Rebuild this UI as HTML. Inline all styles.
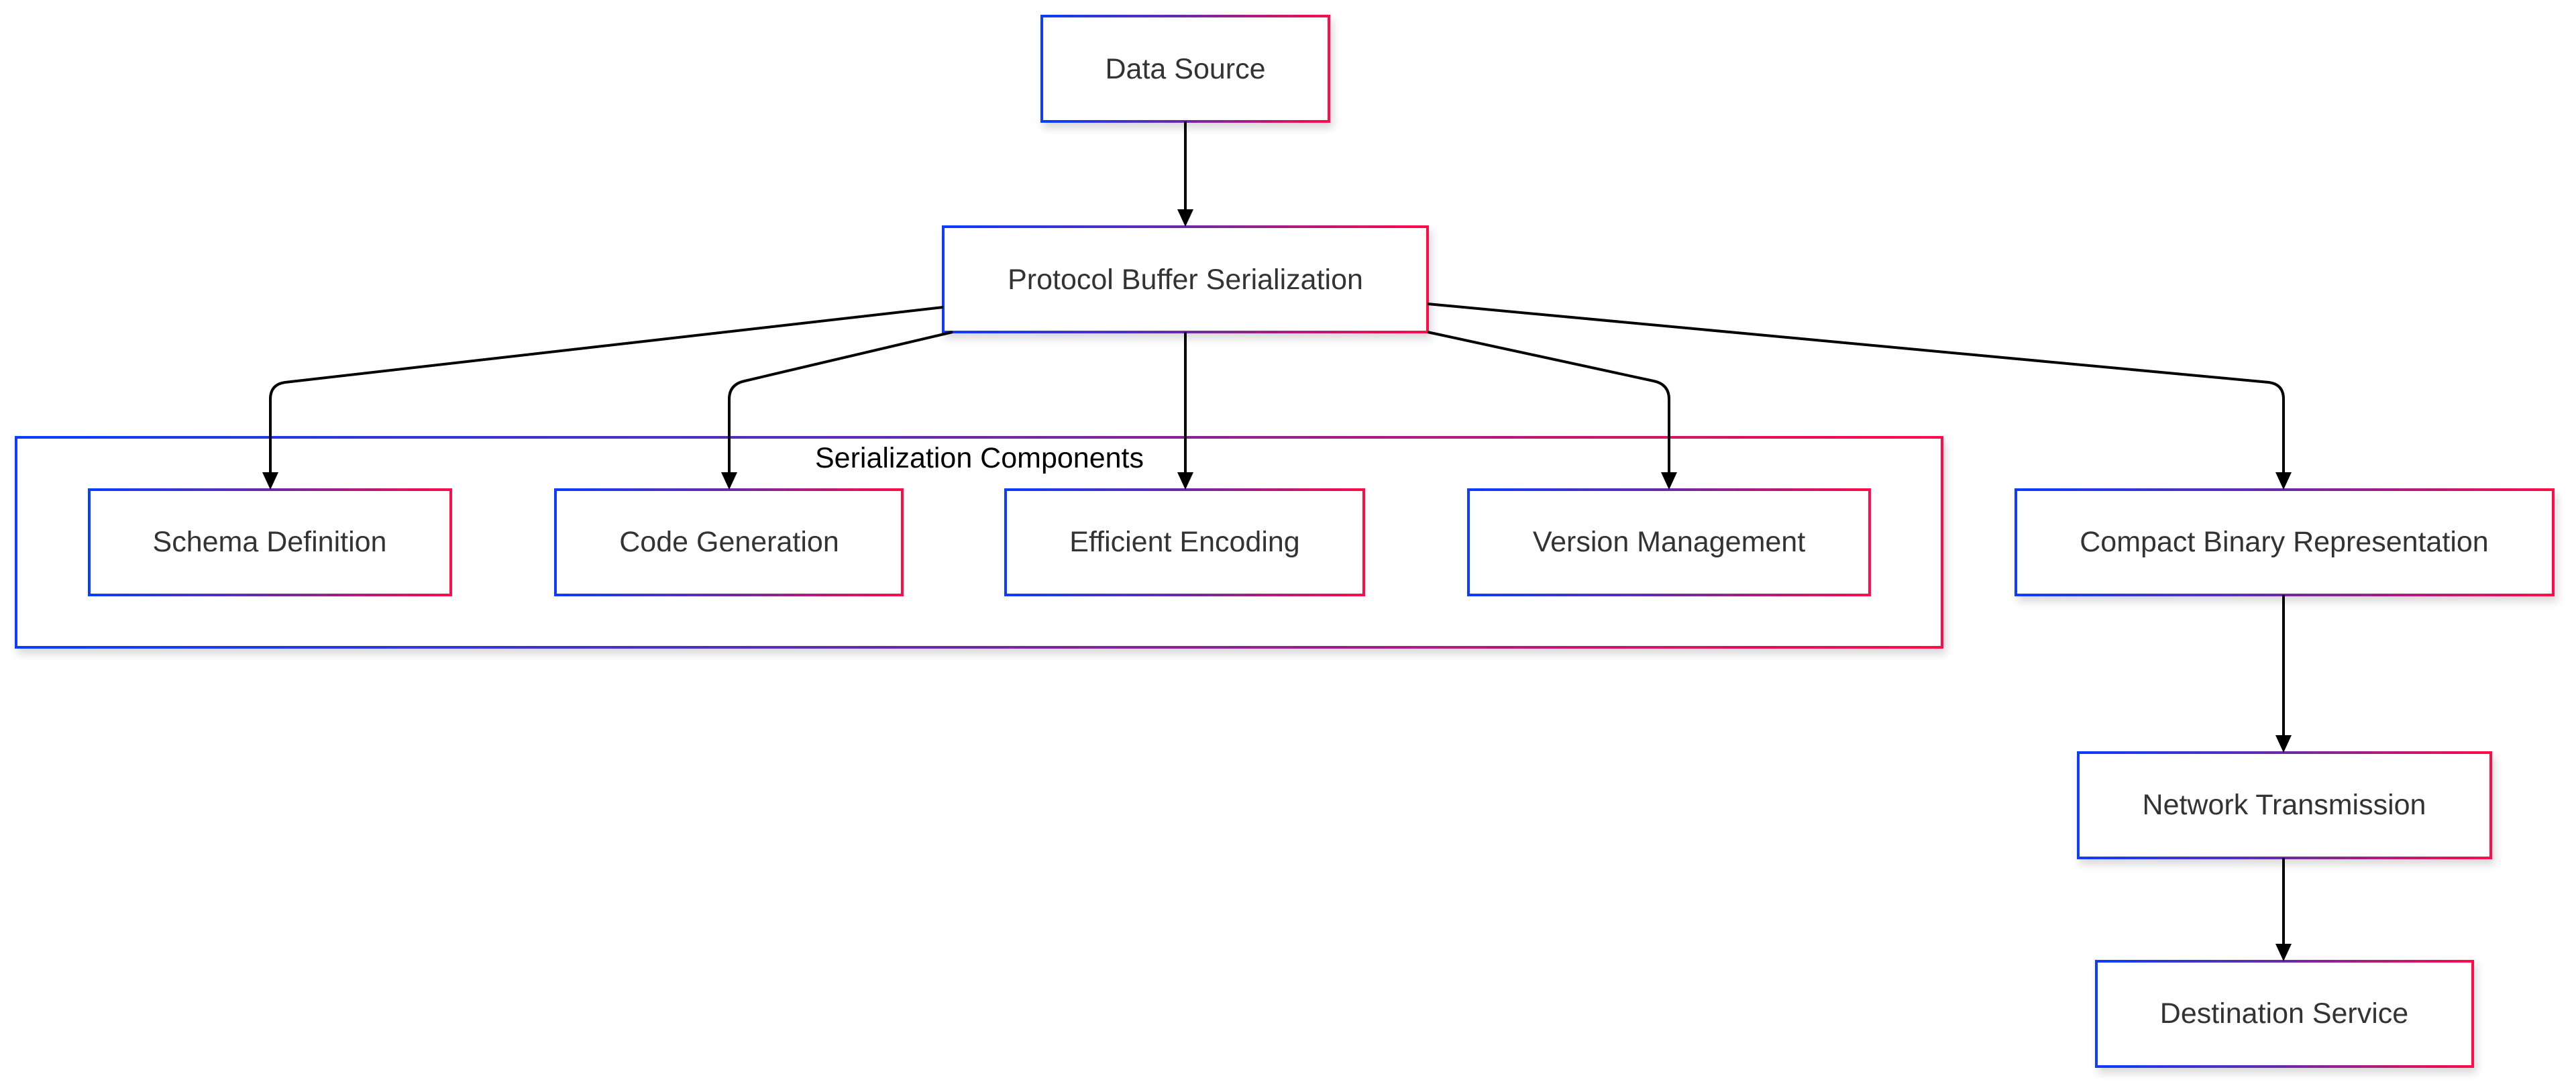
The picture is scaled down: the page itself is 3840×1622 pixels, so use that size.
<!DOCTYPE html>
<html><head><meta charset="utf-8"><style>
html,body{margin:0;padding:0;background:#fff;}
svg{display:block;}
text{font-family:"Liberation Sans",Arial,sans-serif;}
</style></head><body>
<svg width="3840" height="1622" viewBox="0 0 3840 1622" xmlns="http://www.w3.org/2000/svg">
<defs>
<linearGradient id="g" x1="0" y1="0" x2="1" y2="0">
<stop offset="0" stop-color="#0a3cff"/><stop offset="0.5" stop-color="#6a2aa8"/><stop offset="1" stop-color="#ff0a4a"/>
</linearGradient>
<filter id="sh" x="-5%" y="-5%" width="110%" height="130%">
<feDropShadow dx="4" dy="8" stdDeviation="6" flood-color="#000" flood-opacity="0.15"/>
</filter>
</defs>
<g fill="#fff" stroke="url(#g)" stroke-width="4" filter="url(#sh)">
<rect x="24" y="652" width="2871" height="313"/>
<rect x="1553" y="24" width="428" height="157"/>
<rect x="1406" y="338" width="722" height="157"/>
<rect x="133" y="730" width="539" height="157"/>
<rect x="828" y="730" width="517" height="157"/>
<rect x="1499" y="730" width="534" height="157"/>
<rect x="2189" y="730" width="598" height="157"/>
<rect x="3005" y="730" width="801" height="157"/>
<rect x="3098" y="1122" width="615" height="157"/>
<rect x="3125" y="1433" width="561" height="157"/>
</g>
<g fill="none" stroke="#000" stroke-width="4">
<path d="M1767 181 V316"/>
<path d="M1406 458 L425 570 Q403 573 403 595 V708"/>
<path d="M1420 495 L1110 568 Q1087 573 1087 595 V708"/>
<path d="M1767 495 V708"/>
<path d="M2128 495 L2465 568 Q2488 573 2488 595 V708"/>
<path d="M2128 453 L3382 570 Q3404 573 3404 595 V708"/>
<path d="M3404 887 V1100"/>
<path d="M3404 1279 V1411"/>
</g>
<g fill="#000">
<path d="M1755 312 L1779 312 L1767 338 Z"/>
<path d="M391 704 L415 704 L403 730 Z"/>
<path d="M1075 704 L1099 704 L1087 730 Z"/>
<path d="M1755 704 L1779 704 L1767 730 Z"/>
<path d="M2476 704 L2500 704 L2488 730 Z"/>
<path d="M3392 704 L3416 704 L3404 730 Z"/>
<path d="M3392 1096 L3416 1096 L3404 1122 Z"/>
<path d="M3392 1407 L3416 1407 L3404 1433 Z"/>
</g>
<g font-size="43" fill="#333" text-anchor="middle" dominant-baseline="central">
<text x="1767" y="103">Data Source</text>
<text x="1767" y="417">Protocol Buffer Serialization</text>
<text x="402" y="808">Schema Definition</text>
<text x="1087" y="808">Code Generation</text>
<text x="1766" y="808">Efficient Encoding</text>
<text x="2488" y="808">Version Management</text>
<text x="3405" y="808">Compact Binary Representation</text>
<text x="3405" y="1200">Network Transmission</text>
<text x="3405" y="1511">Destination Service</text>
<text x="1460" y="683" fill="#000">Serialization Components</text>
</g>
</svg>
</body></html>
